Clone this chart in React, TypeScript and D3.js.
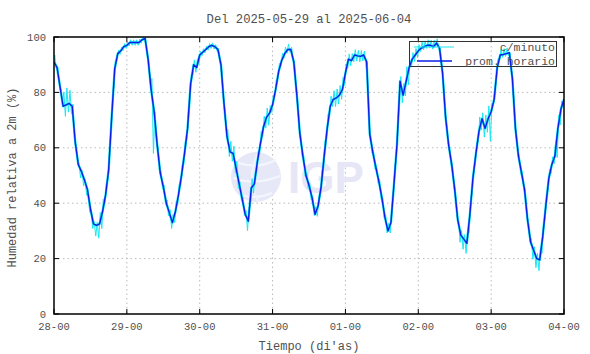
import * as d3 from 'd3';

// promedio horario (%), una lista por día, 24 valores desde las 00h
const day28 = [91, 89, 82, 75, 75.5, 76, 75, 62, 54, 51.5, 48.5, 45, 38, 32.5, 32, 32.5, 37, 43, 52, 71, 88.5, 94, 95, 96.5];
const day29 = [97, 98, 98, 98, 98, 99, 99.5, 92, 81, 73, 61, 51, 46, 40, 36.5, 33, 37, 43, 50, 58, 67, 83, 90, 89];
const day30 = [93.5, 94.5, 95.5, 96.5, 97, 96.5, 95.5, 90, 76, 64, 58.5, 58, 52.5, 47, 41.5, 36, 33.5, 45.5, 47, 55, 61.5, 67.5, 71, 72.5];
const day31 = [75.5, 81, 87.5, 91.5, 94, 95.5, 95.5, 91, 79, 65, 57, 50, 46.5, 42, 36, 39, 46, 57, 67, 75, 77.5, 78, 79, 81];
const day01 = [87, 92, 91.5, 93.5, 93.2, 93, 93.5, 91, 65, 58.5, 53, 48, 42, 35, 30, 33, 47, 61.5, 84, 79, 84, 89, 92, 93.5];
const day02 = [95, 96, 96.5, 97, 97, 96.5, 97.8, 96, 87, 71, 61, 54, 45, 34, 28.5, 27, 25.5, 36, 49, 58, 66, 70.5, 67, 70.5];
const day03 = [73, 77.5, 89, 93.5, 93.7, 94, 94.3, 85, 67, 57, 51, 45, 34, 26, 23, 20, 19.5, 28, 39, 49, 54, 57, 67, 74];
const lastValue = 77.5;

// dispersión de los datos por minuto alrededor del promedio (arriba / abajo)
const up28 = [3, 2, 1, 5, 6, 5, 4, 1, 1, 1, 1, 1, 1, 1, 1, 3, 3, 2, 1.5, 1, 2, 1, 1, 1];
const dn28 = [1, 1, 1, 4, 3, 3, 2, 1, 3, 3, 3, 3, 3, 4, 5, 5, 2, 1.5, 1.5, 1, 1, 1, 1, 1];
const up29 = [1, 1, 1, 1, 1, 1, 1, 1, 6, 3, 2, 2, 2, 2, 2, 2, 2, 2, 2, 2, 2, 2, 2, 2];
const dn29 = [1, 1, 1, 1, 1, 1, 1, 1, 17, 2, 2, 2, 2, 2, 3, 3, 2, 2, 2, 2, 2, 2, 2, 2];
const up30 = [1, 1, 1, 1, 1, 1, 1, 2, 1, 4, 4, 4, 4, 2, 2, 2, 2, 3, 2, 2, 3, 3, 3, 2];
const dn30 = [1, 1, 1, 1, 1, 1, 1, 1, 1, 3, 3, 3, 3, 2, 2, 4, 3, 3, 2, 2, 2, 3, 4, 2];
const up31 = [2, 2, 2, 2, 2, 2, 2, 2, 2, 2, 2, 2, 2, 2, 2, 2, 3, 3, 3, 3, 3, 3, 3, 3];
const dn31 = [1, 1, 1, 1, 1, 1, 1, 2, 2, 2, 2, 2, 2, 2, 3, 2, 2, 2, 2, 2, 3, 3, 3, 3];
const up01 = [2, 2, 2, 2, 2, 2, 2, 2, 2, 2, 2, 2, 2, 2, 2, 2, 2, 2, 3, 3, 4, 2, 2, 2];
const dn01 = [2, 2, 2, 2, 2, 2, 2, 2, 2, 2, 2, 2, 2, 2, 3, 2, 2, 2, 4, 4, 5, 2, 2, 2];
const up02 = [2, 2, 2, 2, 2, 2, 2, 2, 2, 2, 2, 2, 2, 2, 2, 2, 2, 2, 2, 2, 4, 3, 4, 4];
const dn02 = [1, 1, 1, 1, 1, 1, 1, 1, 2, 2, 2, 2, 2, 4, 4, 4, 4, 2, 2, 2, 3, 4, 4, 10];
const up03 = [2, 2, 2, 2, 2, 2, 2, 2, 2, 2, 2, 2, 2, 2, 2, 2, 2, 2, 2, 2, 2, 3, 3, 2];
const dn03 = [1, 1, 1, 1, 1, 1, 1, 2, 2, 2, 2, 2, 2, 4, 4, 4, 4, 2, 2, 2, 2, 8, 4, 2];

const yTicks = [0, 20, 40, 60, 80, 100];
const title = 'Del 2025-05-29 al 2025-06-04';
const xTitle = "Tiempo (di'as)";
const yTitle = 'Humedad relativa a 2m (%)';
const legendLabels = ['c/minuto', 'prom. horario'];

const W = 590;
const H = 354;
const margin = { top: 37, right: 26, bottom: 40, left: 54 };
const font = "'Liberation Mono', 'DejaVu Sans Mono', monospace";
const textColor = '#505050';
const cyanColor = '#18e8f2';
const blueColor = '#0a1ee8';

export default function App() {
  const hourly = [...day28, ...day29, ...day30, ...day31, ...day01, ...day02, ...day03, lastValue];
  const ups = [...up28, ...up29, ...up30, ...up31, ...up01, ...up02, ...up03];
  const dns = [...dn28, ...dn29, ...dn30, ...dn31, ...dn01, ...dn02, ...dn03];

  const t0 = Date.UTC(2025, 4, 28);
  const t1 = Date.UTC(2025, 5, 4);
  const hr = 3600 * 1000;

  const x = d3.scaleUtc().domain([t0, t1]).range([margin.left, W - margin.right]);
  const y = d3.scaleLinear().domain([0, 100]).range([H - margin.bottom, margin.top]);
  const xTicks = x.ticks(d3.utcDay.every(1) as any);
  const fmt = d3.utcFormat('%d-%H');

  const hourPts: [number, number][] = hourly.map((v, i) => [t0 + i * hr, v]);

  const minutePts: [number, number][] = [[t0, hourly[0]]];
  ups.forEach((u, i) => {
    const a = hourly[i];
    const b = hourly[i + 1];
    minutePts.push([t0 + (i + 0.25) * hr, Math.min(100, a + (b - a) * 0.25 + u)]);
    minutePts.push([t0 + (i + 0.75) * hr, a + (b - a) * 0.75 - dns[i]]);
  });
  minutePts.push([t1, lastValue]);

  const line = d3
    .line<[number, number]>()
    .x((d) => x(d[0]))
    .y((d) => y(d[1]));

  const x0 = margin.left;
  const x1 = W - margin.right;
  const y0 = H - margin.bottom;
  const y1 = margin.top;
  const cx = (x0 + x1) / 2;
  const cy = (y0 + y1) / 2;

  return (
    <svg width={W} height={H} style={{ position: 'absolute', left: 0, top: 0, background: '#fff' }}>
      <defs>
        <clipPath id="plot">
          <rect x={x0} y={y1} width={x1 - x0} height={y0 - y1} />
        </clipPath>
      </defs>

      {/* grid */}
      {yTicks.slice(1, -1).map((v) => (
        <line key={'gy' + v} x1={x0} x2={x1} y1={y(v)} y2={y(v)} stroke="#a8a8a8" strokeWidth={0.8} strokeDasharray="1.5,3" />
      ))}
      {xTicks.slice(1, -1).map((d) => (
        <line key={'gx' + d.getTime()} x1={x(d)} x2={x(d)} y1={y1} y2={y0} stroke="#a8a8a8" strokeWidth={0.8} strokeDasharray="1.5,3" />
      ))}

      {/* marca de agua IGP */}
      <g>
        <circle cx={256} cy={177} r={25} fill="#e7e8f7" />
        <path d="M236,162 Q256,170 276,160" fill="none" stroke="#f4f6fd" strokeWidth={2} />
        <path d="M233,178 Q256,186 280,176" fill="none" stroke="#f4f6fd" strokeWidth={2} />
        <path d="M240,195 Q256,200 272,193" fill="none" stroke="#f4f6fd" strokeWidth={2} />
        <path d="M258,153 Q246,177 258,201" fill="none" stroke="#f0f3fc" strokeWidth={2} />
        <text x={288} y={193} fontFamily="'Liberation Sans', Arial, sans-serif" fontWeight="bold" fontSize={44} fill="#e6e6f7">
          IGP
        </text>
      </g>

      {/* series */}
      <g clipPath="url(#plot)">
        <path d={line(hourPts) || ''} fill="none" stroke={cyanColor} strokeWidth={2.4} strokeLinejoin="round" />
        <path d={line(minutePts) || ''} fill="none" stroke={cyanColor} strokeWidth={1} />
        <path d={line(hourPts) || ''} fill="none" stroke={blueColor} strokeWidth={1.4} strokeLinejoin="round" />
      </g>

      {/* marco y marcas */}
      <rect x={x0} y={y1} width={x1 - x0} height={y0 - y1} fill="none" stroke="#000" strokeWidth={1.5} />
      {yTicks.map((v) => (
        <g key={'ty' + v}>
          <line x1={x0} x2={x0 + 5} y1={y(v)} y2={y(v)} stroke="#000" />
          <line x1={x1 - 5} x2={x1} y1={y(v)} y2={y(v)} stroke="#000" />
          <text x={46} y={y(v)} dy="0.35em" textAnchor="end" fontFamily={font} fontSize={10.5} fill={textColor}>
            {v}
          </text>
        </g>
      ))}
      {xTicks.map((d) => (
        <g key={'tx' + d.getTime()}>
          <line x1={x(d)} x2={x(d)} y1={y0} y2={y0 - 5} stroke="#000" />
          <line x1={x(d)} x2={x(d)} y1={y1} y2={y1 + 5} stroke="#000" />
          <text x={x(d)} y={330} textAnchor="middle" fontFamily={font} fontSize={10.5} fill={textColor}>
            {fmt(d)}
          </text>
        </g>
      ))}

      {/* leyenda */}
      <rect x={409.5} y={41.5} width={147} height={25} fill="none" stroke="#333" strokeWidth={1} />
      <line x1={414} x2={454} y1={47} y2={47} stroke={cyanColor} strokeWidth={1} />
      <text x={555} y={51} textAnchor="end" fontFamily={font} fontSize={11.5} fill={textColor}>
        {legendLabels[0]}
      </text>
      <line x1={417} x2={452} y1={61} y2={61} stroke={blueColor} strokeWidth={1.4} />
      <text x={555} y={64.5} textAnchor="end" fontFamily={font} fontSize={11.5} fill={textColor}>
        {legendLabels[1]}
      </text>

      {/* títulos */}
      <text x={cx} y={23} textAnchor="middle" fontFamily={font} fontSize={12.2} fill={textColor}>
        {title}
      </text>
      <text x={cx} y={350} textAnchor="middle" fontFamily={font} fontSize={12} fill={textColor}>
        {xTitle}
      </text>
      <text
        transform={`translate(16,${cy + 2}) rotate(-90)`}
        textAnchor="middle"
        fontFamily={font}
        fontSize={12}
        fill={textColor}
      >
        {yTitle}
      </text>
    </svg>
  );
}
